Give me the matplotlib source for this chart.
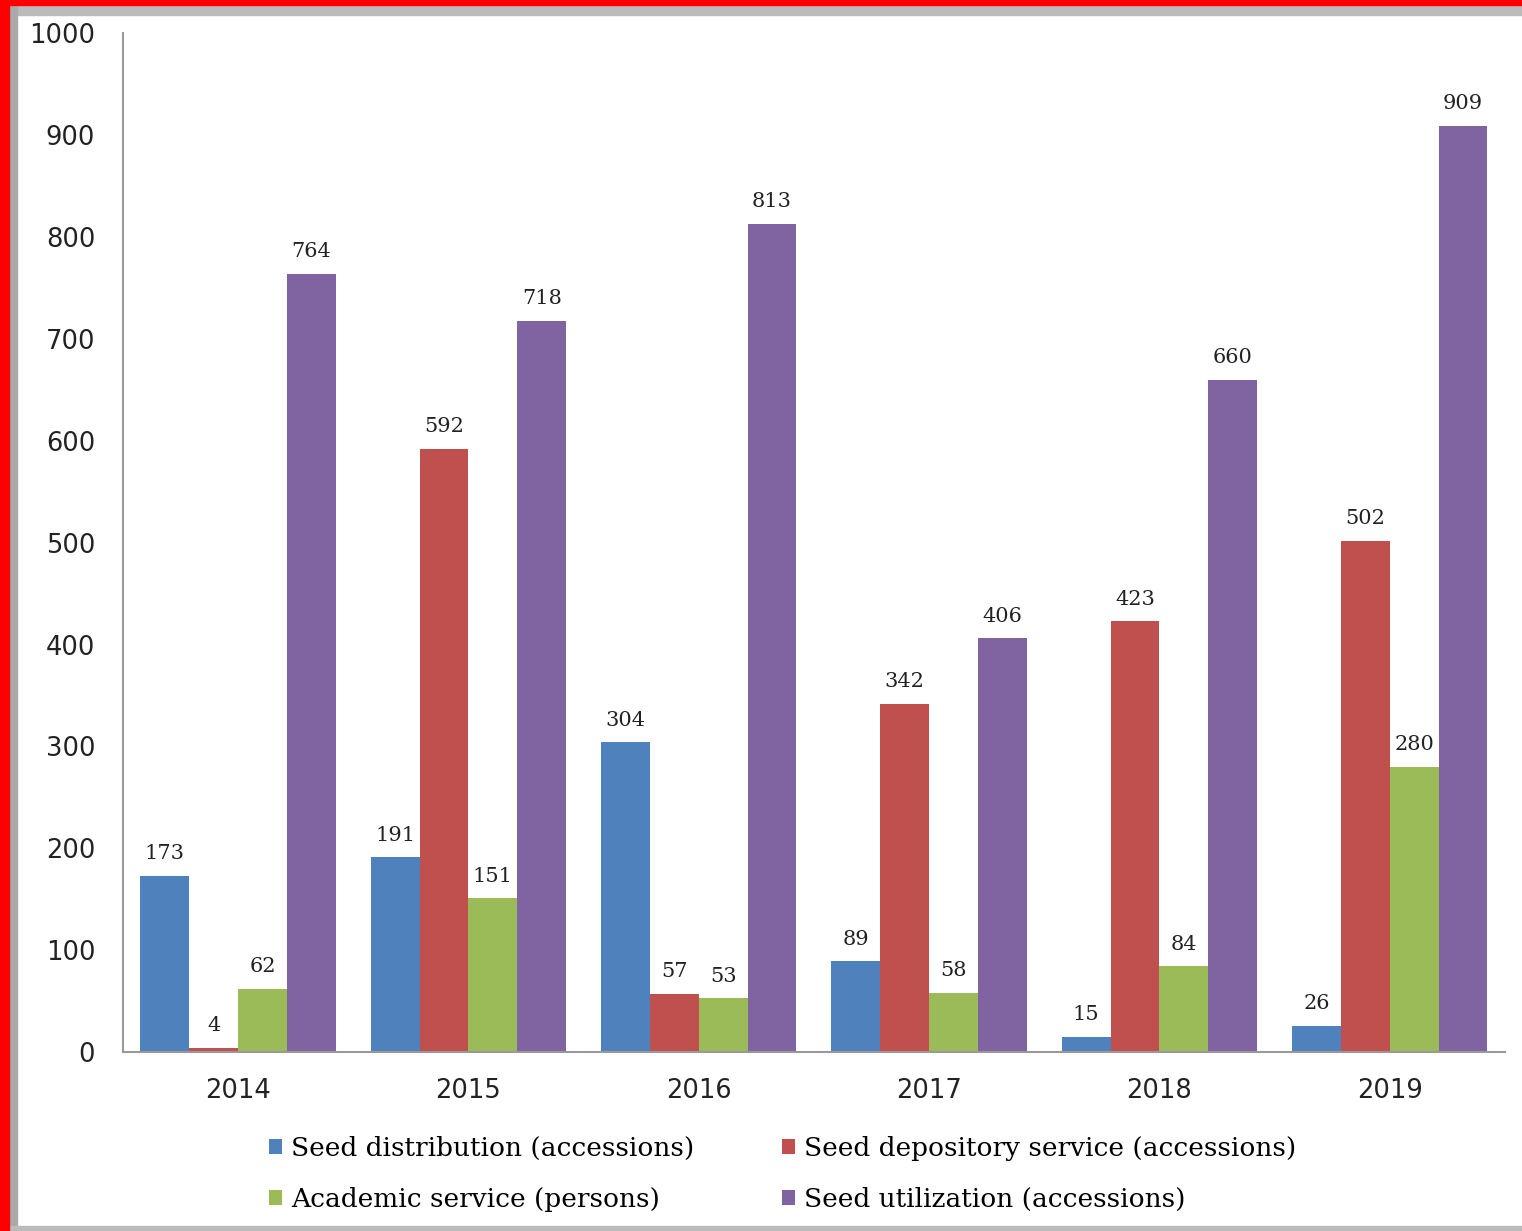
import matplotlib
matplotlib.use("Agg")
import matplotlib.pyplot as plt
import numpy as np
from matplotlib.patches import Rectangle

years = ["2014", "2015", "2016", "2017", "2018", "2019"]
seed_distribution = [173, 191, 304, 89, 15, 26]
seed_depository = [4, 592, 57, 342, 423, 502]
academic_service = [62, 151, 53, 58, 84, 280]
seed_utilization = [764, 718, 813, 406, 660, 909]

series_names = ["Seed distribution (accessions)", "Seed depository service (accessions)",
                "Academic service (persons)", "Seed utilization (accessions)"]
colors = ["#4F81BD", "#C0504D", "#9BBB59", "#8064A2"]

plt.rcParams['font.family'] = ['DejaVu Serif']

fig = plt.figure(figsize=(15.22, 12.31), dpi=100)
ax = fig.add_axes([0.0808, 0.1454, 0.908, 0.8276])

x = np.arange(len(years))
w = 0.212
all_series = [seed_distribution, seed_depository, academic_service, seed_utilization]
for i, (vals, c, name) in enumerate(zip(all_series, colors, series_names)):
    pos = x + (i - 1.5) * w
    ax.bar(pos, vals, width=w, color=c, label=name)
    for p, v in zip(pos, vals):
        ax.annotate(str(v), (p, v), xytext=(0, 9), textcoords="offset points",
                    ha="center", va="bottom", fontsize=15, color="#222222",
                    family="DejaVu Serif")

ax.set_xlim(-0.5, 5.5)
ax.set_ylim(0, 1000)
ax.set_yticks(range(0, 1001, 100))
ax.set_xticks(x)
ax.set_xticklabels(years)
ax.tick_params(axis='both', length=0, colors="#222222")
ax.tick_params(axis='y', pad=20)
ax.tick_params(axis='x', pad=19)
for lab in ax.get_xticklabels() + ax.get_yticklabels():
    lab.set_family("DejaVu Sans")
    lab.set_fontsize(18.5)
for s in ["top", "right"]:
    ax.spines[s].set_visible(False)
for s in ["left", "bottom"]:
    ax.spines[s].set_color("#999999")
    ax.spines[s].set_linewidth(1.5)

handles, labels = ax.get_legend_handles_labels()
order = [0, 2, 1, 3]
leg = fig.legend([handles[k] for k in order], [labels[k] for k in order], ncol=2,
                 loc="lower left", bbox_to_anchor=(0.161, -0.004), frameon=False,
                 handlelength=0.5, handleheight=0.5, handletextpad=0.35,
                 columnspacing=3.3, labelspacing=1.0,
                 prop={"family": "DejaVu Serif", "size": 19})

# border: red frame and shadow
fig.patches.append(Rectangle((0, 0), 0.006, 1, transform=fig.transFigure, color="#FF0000", zorder=10))
fig.patches.append(Rectangle((0, 0.996), 1, 0.004, transform=fig.transFigure, color="#FF0000", zorder=10))
fig.patches.append(Rectangle((0.006, 0.988), 0.994, 0.008, transform=fig.transFigure, color="#BBBBBB", zorder=9))
fig.patches.append(Rectangle((0.006, 0), 0.005, 1, transform=fig.transFigure, color="#AAAAAA", zorder=9))
fig.patches.append(Rectangle((0, 0), 1, 0.004, transform=fig.transFigure, color="#BBBBBB", zorder=9))

fig.savefig("out.png", dpi=100)
